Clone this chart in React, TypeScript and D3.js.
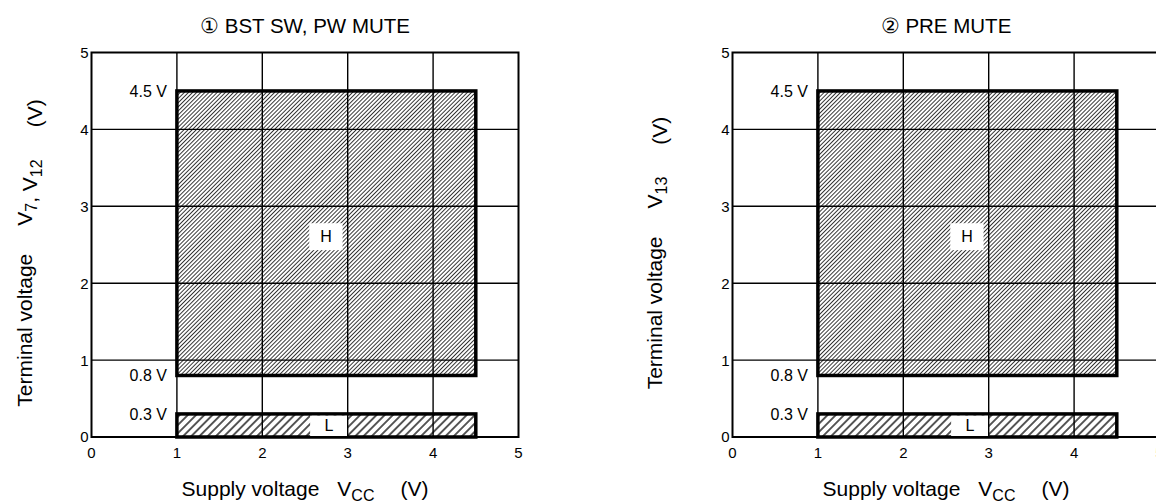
import * as d3 from "d3";

// axis ticks (V)
const xTicks = [0, 1, 2, 3, 4, 5];
const yTicks = [0, 1, 2, 3, 4, 5];

// operating regions
const vccRange = [1, 4.5];
const highRange = [0.8, 4.5];
const lowRange = [0, 0.3];
const levelValues = [4.5, 0.8, 0.3];
const levelTexts = ["4.5 V", "0.8 V", "0.3 V"];

const panelTitles = ["① BST SW, PW MUTE", "② PRE MUTE"];
const panelTerminals = [
  [["V", "7"], [", V", "12"]],
  [["V", "13"]],
];

const W = 1156;
const H = 504;
const font = "'Liberation Sans', Arial, Helvetica, sans-serif";

const Panel = ({ idx, left }: { idx: number; left: number }) => {
  const top = 52.5;
  const pw = 427;
  const ph = 384.5;
  const x = d3.scaleLinear().domain([0, 5]).range([left, left + pw]);
  const y = d3.scaleLinear().domain([0, 5]).range([top + ph, top]);
  const cx = left + pw / 2;
  const yTitleX = idx === 0 ? 32 : 662;

  // label boxes
  const hBox = { x0: 2.55, x1: 2.94, y0: 2.43, y1: 2.78, tx: 2.745, ty: 2.605 };
  const lBox = { x0: 2.56, x1: 3.0, tx: 2.78 };

  return (
    <g>
      <text x={cx} y={33} textAnchor="middle" fontSize={20.5} fontFamily={font}>
        {panelTitles[idx]}
      </text>

      {/* hatched regions */}
      <rect
        x={x(vccRange[0])}
        y={y(highRange[1])}
        width={x(vccRange[1]) - x(vccRange[0])}
        height={y(highRange[0]) - y(highRange[1])}
        fill="url(#hatchH)"
      />
      <rect
        x={x(vccRange[0])}
        y={y(lowRange[1])}
        width={x(vccRange[1]) - x(vccRange[0])}
        height={y(lowRange[0]) - y(lowRange[1])}
        fill="url(#hatchL)"
      />

      {/* grid */}
      {xTicks.slice(1, -1).map((t) => (
        <line key={"gx" + t} x1={x(t)} x2={x(t)} y1={y(0)} y2={y(5)} stroke="#000" strokeWidth={1.4} />
      ))}
      {yTicks.slice(1, -1).map((t) => (
        <line key={"gy" + t} x1={x(0)} x2={x(5)} y1={y(t)} y2={y(t)} stroke="#000" strokeWidth={1.4} />
      ))}
      <rect x={x(0)} y={y(5)} width={pw} height={ph} fill="none" stroke="#000" strokeWidth={2} />

      {/* region borders */}
      <rect
        x={x(vccRange[0])}
        y={y(highRange[1])}
        width={x(vccRange[1]) - x(vccRange[0])}
        height={y(highRange[0]) - y(highRange[1])}
        fill="none"
        stroke="#000"
        strokeWidth={3.5}
      />
      <rect
        x={x(vccRange[0])}
        y={y(lowRange[1])}
        width={x(vccRange[1]) - x(vccRange[0])}
        height={y(lowRange[0]) - y(lowRange[1])}
        fill="none"
        stroke="#000"
        strokeWidth={3.5}
      />

      {/* H / L labels */}
      <rect x={x(hBox.x0)} y={y(hBox.y1)} width={x(hBox.x1) - x(hBox.x0)} height={y(hBox.y0) - y(hBox.y1)} fill="#fff" />
      <text x={x(hBox.tx)} y={y(hBox.ty)} dy="0.36em" textAnchor="middle" fontSize={16} fontFamily={font}>H</text>
      <rect
        x={x(lBox.x0)}
        y={y(lowRange[1]) + 1.8}
        width={x(lBox.x1) - x(lBox.x0) - 0.7}
        height={y(lowRange[0]) - y(lowRange[1]) - 2.8}
        fill="#fff"
      />
      <text x={x(lBox.tx)} y={y(lowRange[1] / 2)} dy="0.36em" textAnchor="middle" fontSize={16} fontFamily={font}>L</text>

      {/* level labels */}
      {levelValues.map((v, i) => (
        <text key={"lv" + i} x={x(vccRange[0]) - 10} y={y(v)} dy="0.36em" textAnchor="end" fontSize={16} fontFamily={font}>
          {levelTexts[i]}
        </text>
      ))}

      {/* tick labels */}
      {yTicks.map((t) => (
        <text key={"ty" + t} x={x(0) - 3} y={y(t)} dy="0.36em" textAnchor="end" fontSize={15} fontFamily={font}>{t}</text>
      ))}
      {xTicks.map((t) => (
        <text key={"tx" + t} x={x(t)} y={458} textAnchor="middle" fontSize={15} fontFamily={font}>{t}</text>
      ))}

      {/* axis titles */}
      <text x={cx} y={496} textAnchor="middle" fontSize={21} fontFamily={font}>
        Supply voltage
        <tspan dx={18}>V</tspan>
        <tspan fontSize={16} dy={5}>CC</tspan>
        <tspan dy={-5} dx={26}>(V)</tspan>
      </text>
      <text
        transform={`translate(${yTitleX},253) rotate(-90)`}
        textAnchor="middle"
        fontSize={21}
        fontFamily={font}
      >
        Terminal voltage
        {panelTerminals[idx].map((p, i) => (
          <tspan key={"tm" + i}>
            <tspan dx={i === 0 ? 28 : 0}>{p[0]}</tspan>
            <tspan fontSize={16} dy={5}>{p[1]}</tspan>
            <tspan dy={-5}>{""}</tspan>
          </tspan>
        ))}
        <tspan dx={32}>(V)</tspan>
      </text>
    </g>
  );
};

export default function App() {
  return (
    <svg width={W} height={H} style={{ position: "absolute", left: 0, top: 0, background: "#fff" }}>
      <defs>
        <pattern id="hatchH" width={2.9} height={10} patternUnits="userSpaceOnUse" patternTransform="rotate(45)">
          <line x1={1.45} y1={0} x2={1.45} y2={10} stroke="#333" strokeWidth={1.0} />
        </pattern>
        <pattern id="hatchL" width={5.8} height={10} patternUnits="userSpaceOnUse" patternTransform="rotate(45)">
          <line x1={2.9} y1={0} x2={2.9} y2={10} stroke="#000" strokeWidth={1.3} />
        </pattern>
      </defs>
      <Panel idx={0} left={91.5} />
      <Panel idx={1} left={732.5} />
    </svg>
  );
}
